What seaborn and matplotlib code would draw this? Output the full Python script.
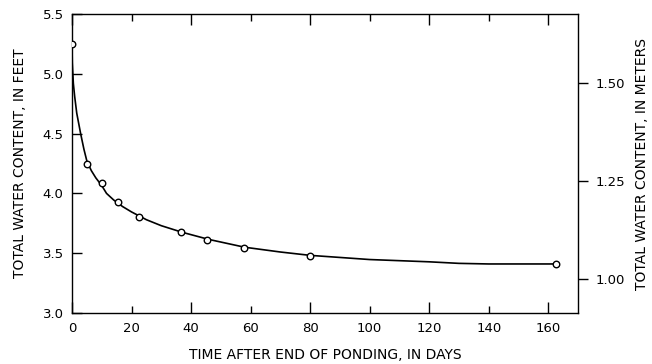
import matplotlib
matplotlib.use("Agg")
import matplotlib.pyplot as plt
import seaborn as sns
import pandas as pd

# Measured points
obs_days = [0, 5, 10, 15.5, 22.5, 36.6, 45.5, 57.7, 80, 162.6]
obs_feet = [5.245, 4.243, 4.085, 3.928, 3.80, 3.677, 3.61, 3.541, 3.479, 3.407]

# Fitted curve
curve_days = [0, 0.1, 0.45, 0.9, 1.6, 2.9, 4.0, 5.0, 6.5, 8.0, 10, 11.6, 14, 17, 20, 25,
              30, 37, 46, 58, 70, 80, 100, 120, 130, 140, 163.5]
curve_feet = [5.245, 5.09, 4.92, 4.81, 4.67, 4.50, 4.37, 4.27, 4.19, 4.13, 4.065, 4.0, 3.945,
              3.89, 3.845, 3.78, 3.73, 3.675, 3.615, 3.55, 3.51, 3.482, 3.447, 3.428, 3.415,
              3.41, 3.41]

x_ticks = [0, 20, 40, 60, 80, 100, 120, 140, 160]
y_ticks = [3.0, 3.5, 4.0, 4.5, 5.0, 5.5]
m_ticks = [1.00, 1.25, 1.50]
FT_TO_M = 0.3048

sns.set_theme(style="ticks")
plt.rcParams["font.family"] = ["DejaVu Sans"]
plt.rcParams["text.color"] = "black"
plt.rcParams["axes.labelcolor"] = "black"

fig = plt.figure(figsize=(6.52, 3.64), dpi=100)
ax = fig.add_axes([72/652, 1-313/364, (578-72)/652, (313-14)/364])

obs = pd.DataFrame({"days": obs_days, "feet": obs_feet})
curve = pd.DataFrame({"days": curve_days, "feet": curve_feet})

sns.lineplot(data=curve, x="days", y="feet", ax=ax, color="black", lw=1.2, sort=False)
sns.scatterplot(data=obs, x="days", y="feet", ax=ax, marker="o", s=22,
                facecolor="white", edgecolor="black", linewidth=1.0, zorder=5)

ax.set_xlim(0, 170)
ax.set_ylim(3.0, 5.5)

major_x = [t for i, t in enumerate(x_ticks) if i % 2 == 0]
minor_x = [t for i, t in enumerate(x_ticks) if i % 2 == 1]
ax.set_xticks(major_x, labels=[str(t) for t in major_x])
ax.set_xticks(minor_x, labels=[str(t) for t in minor_x], minor=True)
ax.set_yticks(y_ticks, labels=[f"{t:.1f}" for t in y_ticks])

ax.tick_params(axis="x", which="major", direction="in", length=8, width=1.0,
               top=True, bottom=True, labelsize=9.5, pad=6.5, colors="black")
ax.tick_params(axis="x", which="minor", direction="in", length=5, width=1.0,
               top=True, bottom=True, labelsize=9.5, pad=6.5, colors="black")
ax.tick_params(axis="y", which="major", direction="in", length=7, width=1.0,
               left=True, right=True, labelsize=9.5, pad=6, colors="black")

for sp in ax.spines.values():
    sp.set_color("black")
    sp.set_linewidth(1.0)

ax.set_xlabel("TIME AFTER END OF PONDING, IN DAYS", fontsize=10, labelpad=9)
ax.set_ylabel("TOTAL WATER CONTENT, IN FEET", fontsize=10, labelpad=11)

ax2 = ax.twinx()
ax2.set_ylim(3.0 * FT_TO_M, 5.5 * FT_TO_M)
ax2.set_yticks(m_ticks, labels=[f"{t:.2f}" for t in m_ticks])
ax2.tick_params(axis="y", direction="out", length=7, width=1.0, labelsize=9.5,
                pad=5.5, colors="black")
for sp in ax2.spines.values():
    sp.set_visible(False)
ax2.set_ylabel("TOTAL WATER CONTENT, IN METERS", fontsize=10, labelpad=7)

fig.savefig("out.png", dpi=100)
